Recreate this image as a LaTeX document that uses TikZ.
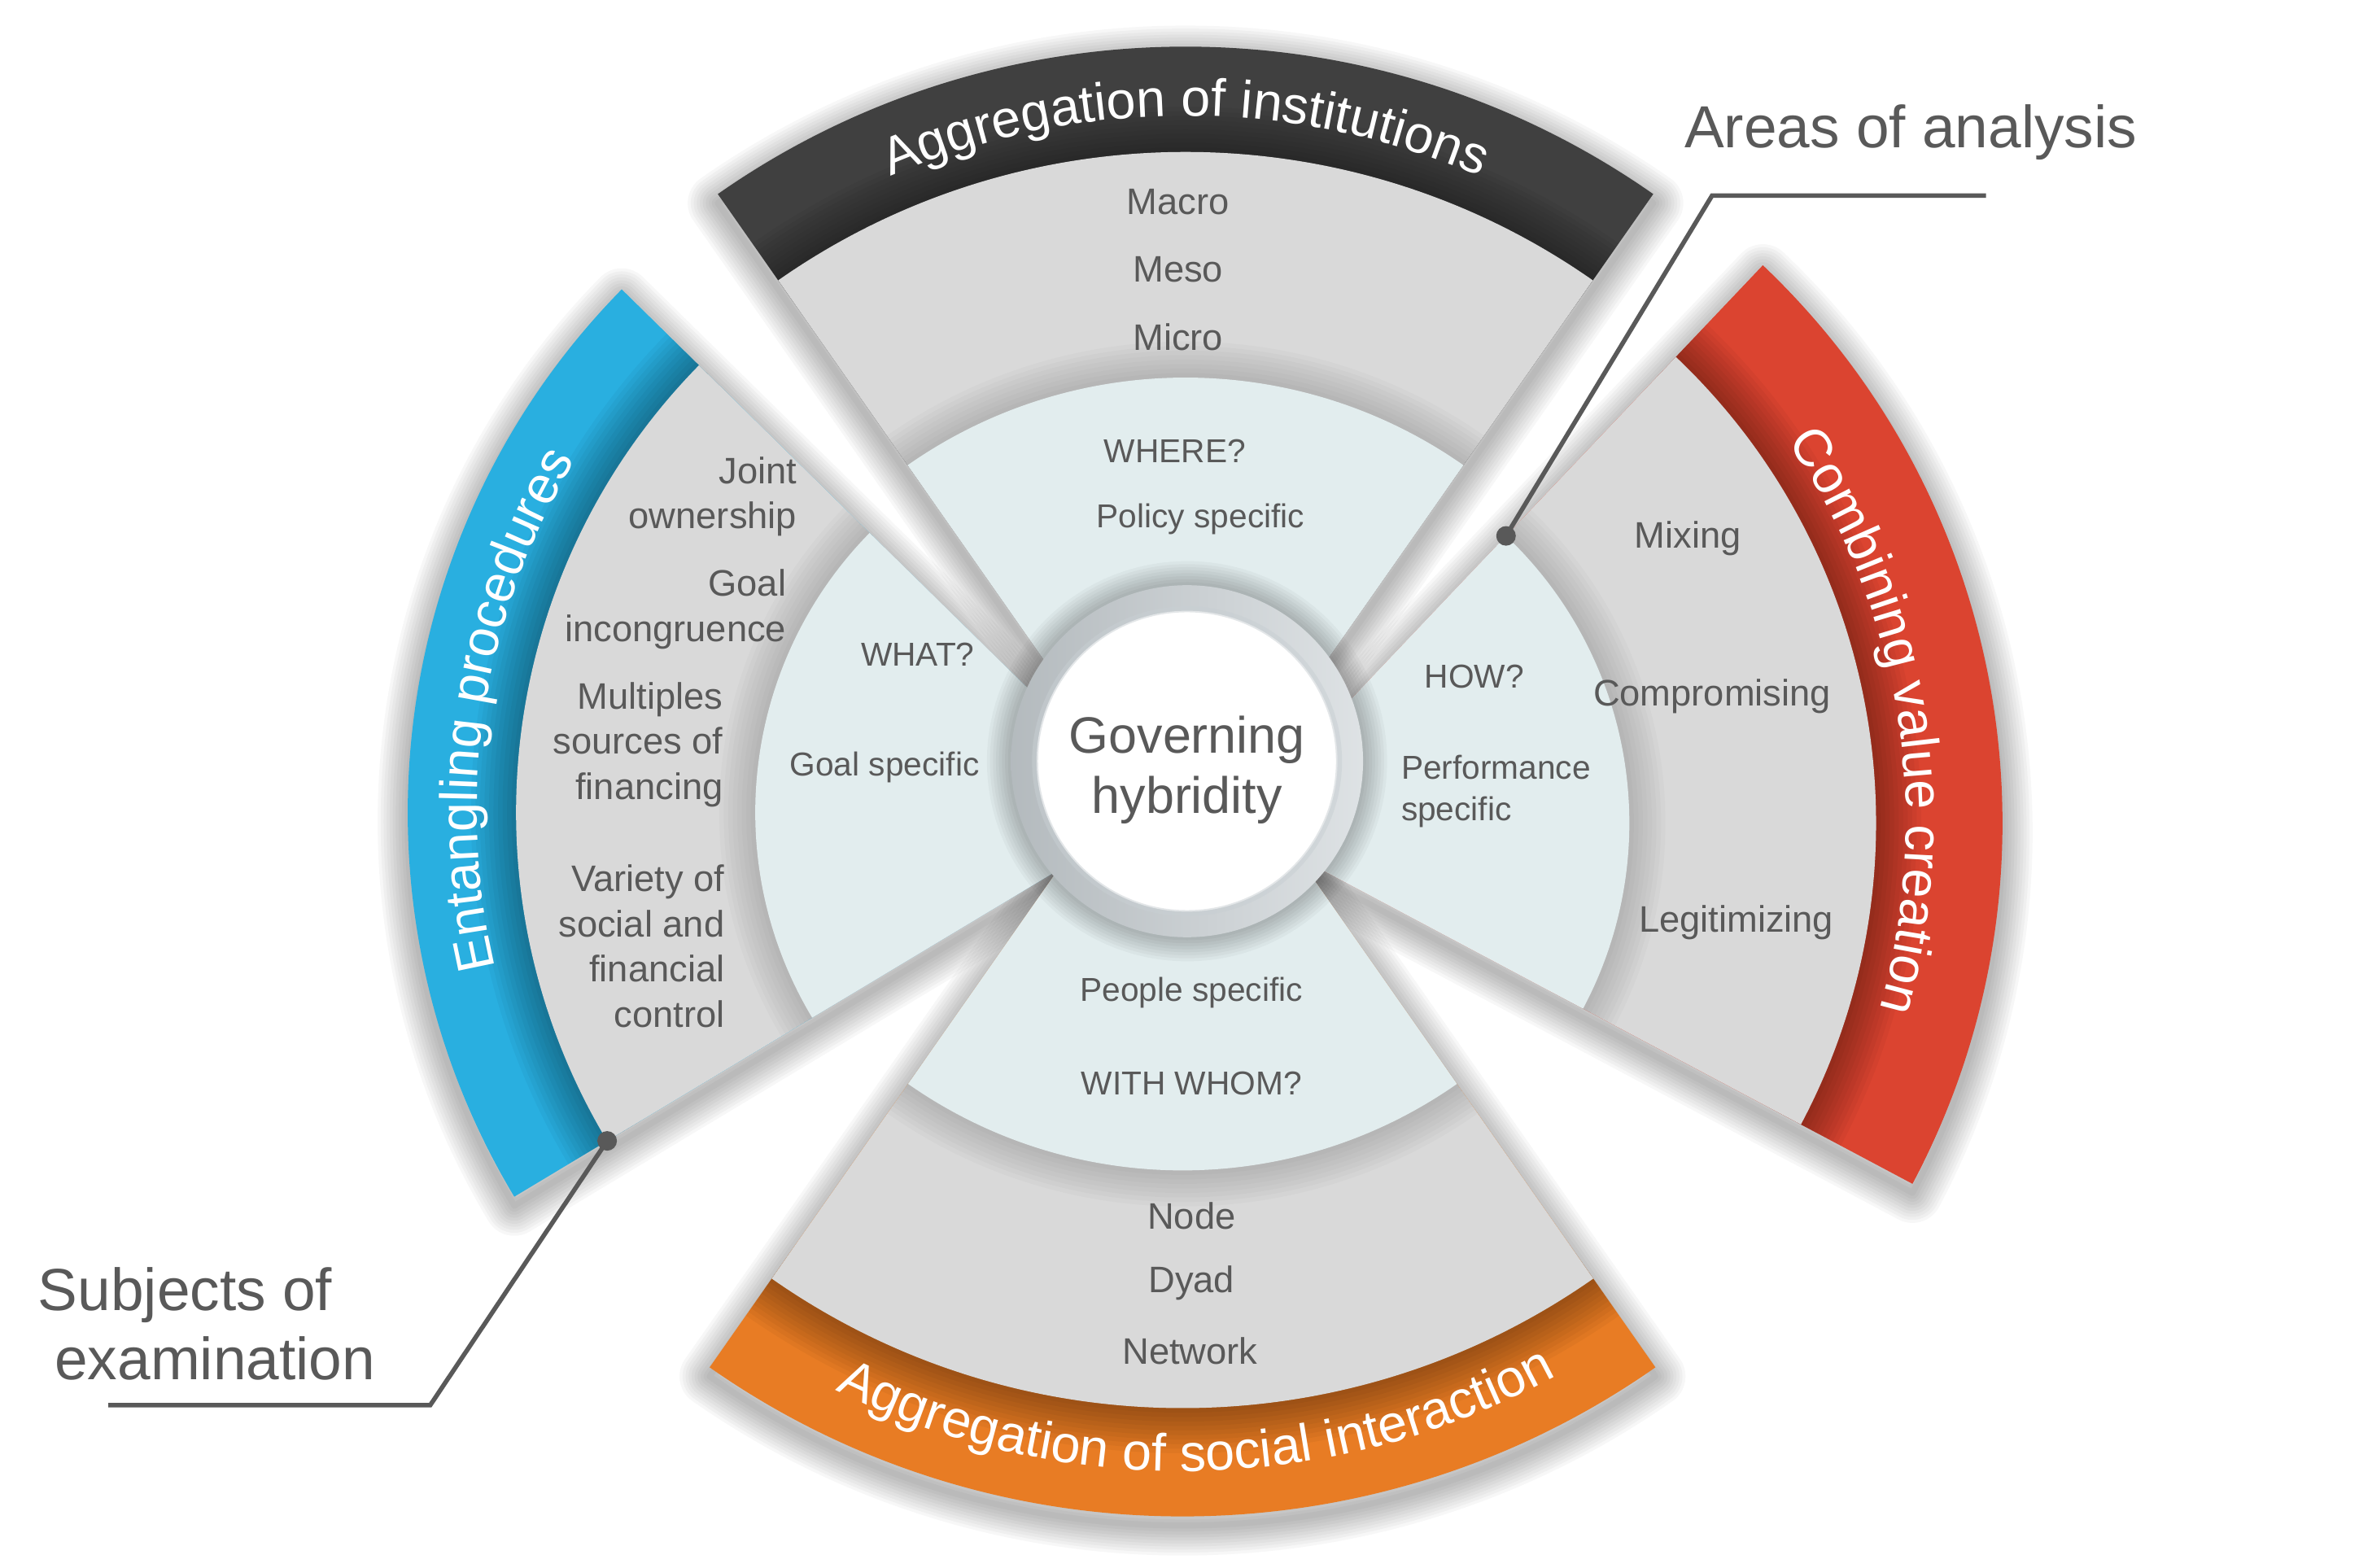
\documentclass[tikz,border=0pt]{standalone}
\usepackage{fontspec}
\setmainfont{Liberation Sans}
\usetikzlibrary{decorations.text}
\definecolor{txtgray}{RGB}{89,89,89}
\definecolor{capgray}{RGB}{64,64,64}
\definecolor{capblue}{RGB}{41,175,224}
\definecolor{capred}{RGB}{219,68,48}
\definecolor{caporange}{RGB}{232,124,36}
\definecolor{midgray}{RGB}{217,217,217}
\definecolor{pale}{RGB}{226,237,238}
\definecolor{ringgray}{RGB}{200,207,211}
\tikzstyle{item} = [text=txtgray, inner sep=0pt, font=\fontsize{12.25}{15}\selectfont]
\tikzstyle{ask} = [text=txtgray, inner sep=0pt, font=\fontsize{11}{14}\selectfont]
\tikzstyle{core} = [text=txtgray, align=center, inner sep=0pt, font=\fontsize{17}{20}\selectfont]
\tikzstyle{callout} = [text=txtgray, inner sep=0pt, font=\fontsize{19.75}{23}\selectfont]
\tikzstyle{leader} = [draw=txtgray, line width=1.5pt]
\tikzstyle{knob} = [fill=txtgray]
\tikzstyle{halo} = [black, opacity=0.03, line join=round]
\newcommand{\capfont}{\fontsize{17.5}{20}\selectfont}

\begin{document}
\begin{tikzpicture}[x=0.5pt, y=0.5pt]
\useasboundingbox (0,0) rectangle (1568,1042);
\coordinate (topC) at (788,469);
\coordinate (botC) at (786,582);
\coordinate (leftC) at (767,502);
\coordinate (rightC) at (820,495);
\coordinate (hub) at (789,536);

\foreach \cx/\a/\b/\rl/\rg/\rb/\col in {topC/55/125/322/472/542/capgray, botC/235/305/318/476/548/caporange, leftC/135.5/211/265/424/496/capblue, rightC/-28/46.5/263/427/511/capred}
{
  \foreach \w in {2,4,...,20}
    \draw[halo, line width=\w pt, transform canvas={yshift=-3pt}] (\cx) -- ++(\a:\rb) arc[start angle=\a, end angle=\b, radius=\rb] -- cycle;
}

\foreach \cx/\a/\b/\rl/\rg/\rb/\col in {topC/55/125/322/472/542/capgray, botC/235/305/318/476/548/caporange, leftC/135.5/211/265/424/496/capblue, rightC/-28/46.5/263/427/511/capred}
{
  \fill[\col] (\cx) -- ++(\a:\rb) arc[start angle=\a, end angle=\b, radius=\rb] -- cycle;
  \foreach \w in {3,6,...,30}
    \draw[black, opacity=0.035, line width=\w pt] (\cx) ++(\a:\rg) arc[start angle=\a, end angle=\b, radius=\rg];
  \fill[midgray] (\cx) -- ++(\a:\rg) arc[start angle=\a, end angle=\b, radius=\rg] -- cycle;
  \foreach \w in {3,6,...,24}
    \draw[black, opacity=0.02, line width=\w pt] (\cx) ++(\a:\rl) arc[start angle=\a, end angle=\b, radius=\rl];
  \fill[pale] (\cx) -- ++(\a:\rl) arc[start angle=\a, end angle=\b, radius=\rl] -- cycle;
}

\foreach \w in {2,4,...,16}
  \draw[halo, line width=\w pt] (hub) circle[radius=117];
\shade[left color=ringgray!90!black, right color=ringgray!60!white] (hub) circle[radius=117];
\fill[white] (hub) circle[radius=100];
\draw[ringgray, opacity=0.5, line width=2pt] (hub) circle[radius=101];

\path (topC) ++(125:496) coordinate (topstart);
\path (botC) ++(236.1:518) coordinate (botstart);
\path (leftC) ++(206.5:450) coordinate (leftstart);
\path (rightC) ++(46.5:447) coordinate (rightstart);
\path[decorate, decoration={text along path, text align=center, text color=white,
  text={|\capfont|Aggregation of institutions}}] (topstart) arc[start angle=125, end angle=55, radius=496];
\path[decorate, decoration={text along path, text align=center, text color=white,
  text={|\capfont|Aggregation of social interaction}}] (botstart) arc[start angle=236.1, end angle=306.1, radius=518];
\path[decorate, decoration={text along path, text align=center, text color=white,
  text={|\capfont|Entangling procedures}}] (leftstart) arc[start angle=206.5, end angle=135.5, radius=450];
\path[decorate, decoration={text along path, text align=center, text color=white,
  text={|\capfont|Combining value creation}}] (rightstart) arc[start angle=46.5, end angle=-28, radius=447];

\node[item] (macro) at (783,908) {Macro};
\node[item] (meso) at (783,863) {Meso};
\node[item] (micro) at (783,818) {Micro};
\node[ask] (where) at (781,742) {WHERE?};
\node[ask] (policy) at (798,697) {Policy specific};

\node[item, anchor=east, align=right] (joint) at (530,712) {Joint\\ownership};
\node[item, anchor=east, align=right] (goal) at (523,637) {Goal\\incongruence};
\node[item, anchor=east, align=right] (multi) at (481,547) {Multiples\\sources of\\financing};
\node[item, anchor=east, align=right] (variety) at (482,413) {Variety of\\social and\\financial\\control};
\node[ask] (what) at (610,607) {WHAT?};
\node[ask] (goalspec) at (588,532) {Goal specific};

\node[item] (mixing) at (1122,684) {Mixing};
\node[item] (comp) at (1138,579) {Compromising};
\node[item] (legit) at (1154,429) {Legitimizing};
\node[ask] (how) at (980,592) {HOW?};
\node[ask, anchor=west, align=left] (perf) at (931,516) {Performance\\specific};

\node[ask] (people) at (792,382) {People specific};
\node[ask] (whom) at (792,322) {WITH WHOM?};
\node[item] (node) at (792,234) {Node};
\node[item] (dyad) at (792,189) {Dyad};
\node[item] (network) at (791,144) {Network};

\node[core] (govern) at (789,530) {Governing\\hybridity};

\node[callout] (areas) at (1270,954) {Areas of analysis};
\node[callout, anchor=west, align=left] (subjects) at (25,162) {Subjects of\\\hspace*{5.5pt}examination};

\path (rightC) ++(46.5:263) coordinate (areadot);
\path (leftC) ++(211:424) coordinate (subjdot);
\coordinate (areaend) at (1320,912);
\coordinate (areabend) at (1138,912);
\coordinate (subjend) at (72,108);
\coordinate (subjbend) at (286,108);
\draw[leader] (areaend) -- (areabend) -- (areadot);
\draw[leader] (subjend) -- (subjbend) -- (subjdot);
\fill[knob] (areadot) circle[radius=6.5];
\fill[knob] (subjdot) circle[radius=6.5];
\end{tikzpicture}
\end{document}
